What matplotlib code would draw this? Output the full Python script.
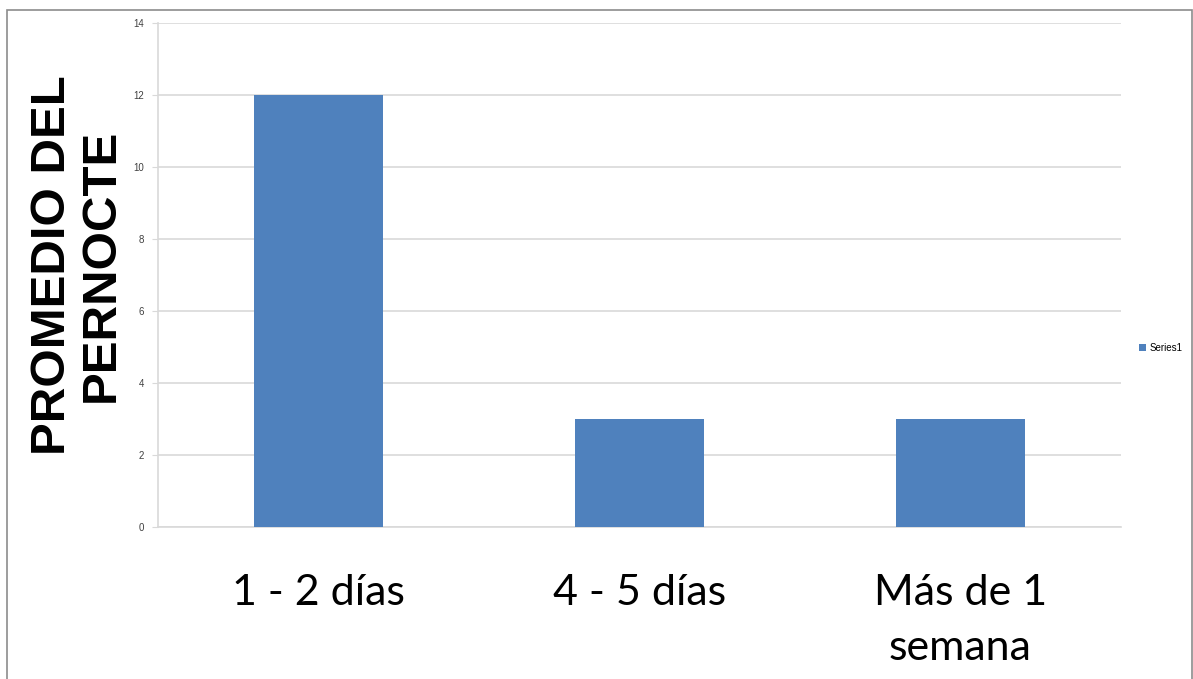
import matplotlib.pyplot as plt
from matplotlib.patches import Rectangle

categories = ["1 - 2 días", "4 - 5 días", "Más de 1\nsemana"]
values = [12, 3, 3]
series_name = "Series1"
y_ticks = [0, 2, 4, 6, 8, 10, 12, 14]

BAR_COLOR = "#4F81BD"
GRID_COLOR = "#D9D9D9"

fig = plt.figure(figsize=(11.93, 6.79), dpi=100)
ax = fig.add_axes([158 / 1193, 1 - 527 / 679, (1121 - 158) / 1193, (527 - 23) / 679])

# outer chart frame
fig.patches.append(Rectangle((7 / 1193, -0.01), 1185 / 1193, 1 - 10 / 679 + 0.01,
                             transform=fig.transFigure, fill=False,
                             edgecolor="#8C8C8C", linewidth=1.2))

x = range(len(categories))
bars = ax.bar(x, values, width=0.4, color=BAR_COLOR, label=series_name, zorder=3)

ax.set_xlim(-0.5, len(categories) - 0.5)
ax.set_ylim(0, 14)
ax.set_yticks(y_ticks)
ax.set_yticklabels([str(t) for t in y_ticks], fontsize=7, color="#404040",
                   family="Liberation Sans")
ax.yaxis.grid(True, color=GRID_COLOR, linewidth=1.2, zorder=0)
ax.tick_params(axis="y", length=4, color=GRID_COLOR, pad=6)

ax.set_xticks(list(x))
ax.set_xticklabels(categories, fontsize=31, family="Lato", linespacing=1.55)
ax.tick_params(axis="x", length=0, pad=34)

for side in ["top", "right"]:
    ax.spines[side].set_visible(False)
ax.spines["left"].set_color(GRID_COLOR)
ax.spines["left"].set_linewidth(1.2)
ax.spines["bottom"].set_color(GRID_COLOR)
ax.spines["bottom"].set_linewidth(1.2)

fig.text(77 / 1193, 1 - 265 / 679, "PROMEDIO DEL\nPERNOCTE", rotation=90,
         fontsize=35.5, fontweight="bold", family="Liberation Sans",
         ha="center", va="center", linespacing=1.1)

leg = ax.legend(loc="center left", bbox_to_anchor=(1.01, 0.355), frameon=False,
                handlelength=0.7, handleheight=0.7, handletextpad=0.3,
                prop={"family": "Liberation Sans", "size": 7})

fig.savefig("out.png", dpi=100)
